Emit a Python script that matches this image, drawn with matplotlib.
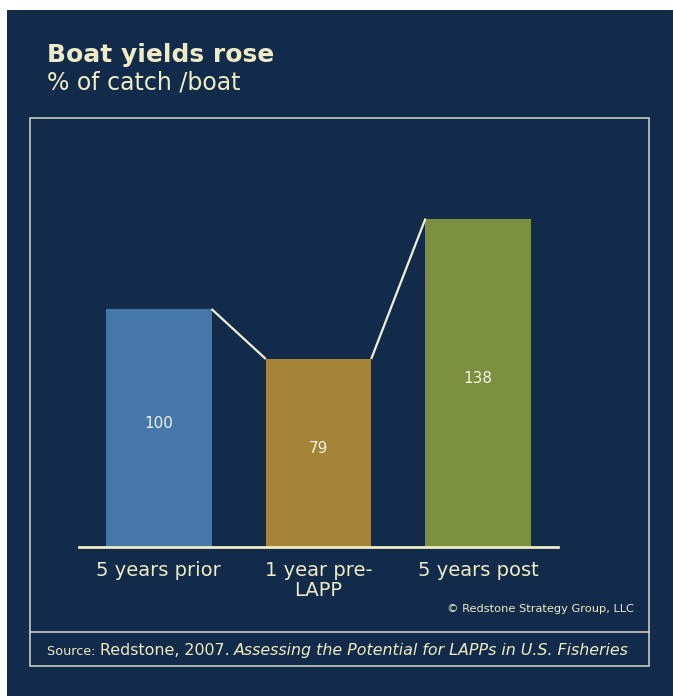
import matplotlib
matplotlib.use("Agg")
import matplotlib.pyplot as plt
from matplotlib.patches import Rectangle
from matplotlib.lines import Line2D

# valores do gráfico
categorias = ["5 years prior", "1 year pre-\nLAPP", "5 years post"]
valores = [100, 79, 138]
cores_barras = ["#4677AA", "#A68437", "#7D9040"]

titulo = "Boat yields rose"
subtitulo = "% of catch /boat"
copyright_txt = "\u00a9 Redstone Strategy Group, LLC"
fonte_rotulo = "Source: "
fonte_autor = "Redstone, 2007. "
fonte_obra = "Assessing the Potential for LAPPs in U.S. Fisheries"

AZUL_FUNDO = "#132B4A"
CREME = "#EEECC4"
MOLDURA = "#C5CAC2"

W, H = 673, 696
fig = plt.figure(figsize=(W / 100, H / 100), dpi=100, facecolor="white")


def px(x, y):
    # converte pixels (origem no canto superior esquerdo) para fração da figura
    return x / W, 1 - y / H


# fundo azul escuro
fig.patches.append(Rectangle((7 / W, 0), 1 - 7 / W, 1 - 10 / H,
                             transform=fig.transFigure, facecolor=AZUL_FUNDO,
                             edgecolor="none", zorder=-10))

# moldura interna e linha separadora da fonte
x0, y0 = px(30, 666)
x1, y1 = px(649, 118)
fig.patches.append(Rectangle((x0, y0), x1 - x0, y1 - y0, transform=fig.transFigure,
                             facecolor="none", edgecolor=MOLDURA, lw=1.2, zorder=-5))
ys = px(0, 632)[1]
fig.lines.append(Line2D([x0, x1], [ys, ys], transform=fig.transFigure,
                        color=MOLDURA, lw=1.2, zorder=-5))

# títulos
fig.text(*px(47, 62), titulo, color=CREME, fontsize=18, fontweight="bold", va="baseline")
fig.text(*px(47, 89), subtitulo, color=CREME, fontsize=17, va="baseline")

# eixo das barras: base em y=547 px, 2.38 px por unidade
escala = 2.38
topo = 150
ax = fig.add_axes([79 / W, (H - 547) / H, 479 / W, topo * escala / H])
ax.set_facecolor("none")
ax.set_xlim(-0.5, 2.5)
ax.set_ylim(0, topo)

largura = 0.66
pos = list(range(len(valores)))
ax.bar(pos, valores, width=largura, color=cores_barras, zorder=2)

# linhas ligando o topo das barras
for i in range(len(valores) - 1):
    ax.plot([pos[i] + largura / 2, pos[i + 1] - largura / 2],
            [valores[i], valores[i + 1]], color="#F0F0DA", lw=1.6,
            solid_capstyle="butt", zorder=3)

# rótulos de valor, um pouco acima do meio da barra
for p, v in zip(pos, valores):
    ax.annotate(str(v), (p, v / 2), xytext=(0, 3), textcoords="offset points",
                ha="center", va="center", color="#F2F2E6", fontsize=11, zorder=4)

ax.axhline(0, color=CREME, lw=2, zorder=3, clip_on=False)

for s in ax.spines.values():
    s.set_visible(False)
ax.set_yticks([])
ax.set_xticks(pos)
ax.set_xticklabels(categorias, color=CREME, fontsize=14, linespacing=1.05)
ax.tick_params(axis="x", length=0, pad=10)

# direitos autorais
fig.text(*px(634, 612), copyright_txt, color=CREME, fontsize=8.2, ha="right", va="baseline")

# linha da fonte, em três partes encadeadas
t1 = fig.text(*px(47, 655), fonte_rotulo, color=CREME, fontsize=9.2, va="baseline")
t2 = fig.text(0, 0, fonte_autor, color=CREME, fontsize=11.4, va="baseline")
t3 = fig.text(0, 0, fonte_obra, color=CREME, fontsize=11.4, style="italic", va="baseline")
fig.canvas.draw()
r = fig.canvas.get_renderer()
bb1 = t1.get_window_extent(r)
t2.set_position((bb1.x1 / W, px(0, 655)[1]))
bb2 = t2.get_window_extent(r)
t3.set_position((bb2.x1 / W, px(0, 655)[1]))

fig.savefig("out.png", dpi=100, facecolor="white")
